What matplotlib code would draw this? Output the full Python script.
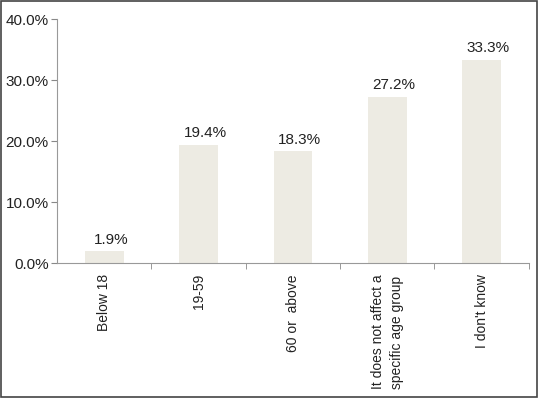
import matplotlib.pyplot as plt
from matplotlib.patches import Rectangle

categories = ["Below 18", "19-59", "60 or  above",
              "It does not affect a\nspecific age group", "I don't know"]
values = [1.9, 19.4, 18.3, 27.2, 33.3]
yticks = [0, 10, 20, 30, 40]

plt.rcParams['font.family'] = ['Liberation Sans', 'DejaVu Sans']
plt.rcParams['font.size'] = 10

fig = plt.figure(figsize=(5.38, 3.98), dpi=100)
ax = fig.add_axes([0.106, 0.339, 0.877, 0.613])

x = range(len(categories))
ax.bar(x, values, width=0.41, color='#edebe3')
for i, v in zip(x, values):
    ax.text(i + 0.07, v + 0.8, "%.1f%%" % v, ha='center', va='bottom',
            color='#222222', fontsize=11)

ax.set_xlim(-0.5, len(categories) - 0.5)
ax.set_ylim(0, 40)
ax.set_yticks(yticks)
ax.set_yticklabels(["%.1f%%" % t for t in yticks], fontsize=11, color='#222222')
ax.set_xticks(list(x))
ax.set_xticklabels(categories, rotation=90, va='top', ha='center',
                   multialignment='left', linespacing=1.5, color='#222222')
ax.tick_params(axis='x', which='major', length=0, pad=8)
ax.set_xticks([i + 0.5 for i in x], minor=True)
ax.tick_params(axis='x', which='minor', length=4, color='#888888', direction='out')
ax.tick_params(axis='y', length=4, color='#888888', pad=2)

for s in ['top', 'right']:
    ax.spines[s].set_visible(False)
for s in ['left', 'bottom']:
    ax.spines[s].set_color('#999999')

fig.patches.append(Rectangle((0.002, 0.002), 0.996, 0.996, transform=fig.transFigure,
                             fill=False, edgecolor='#444444', linewidth=1.2))

fig.savefig("out.png", dpi=100)
